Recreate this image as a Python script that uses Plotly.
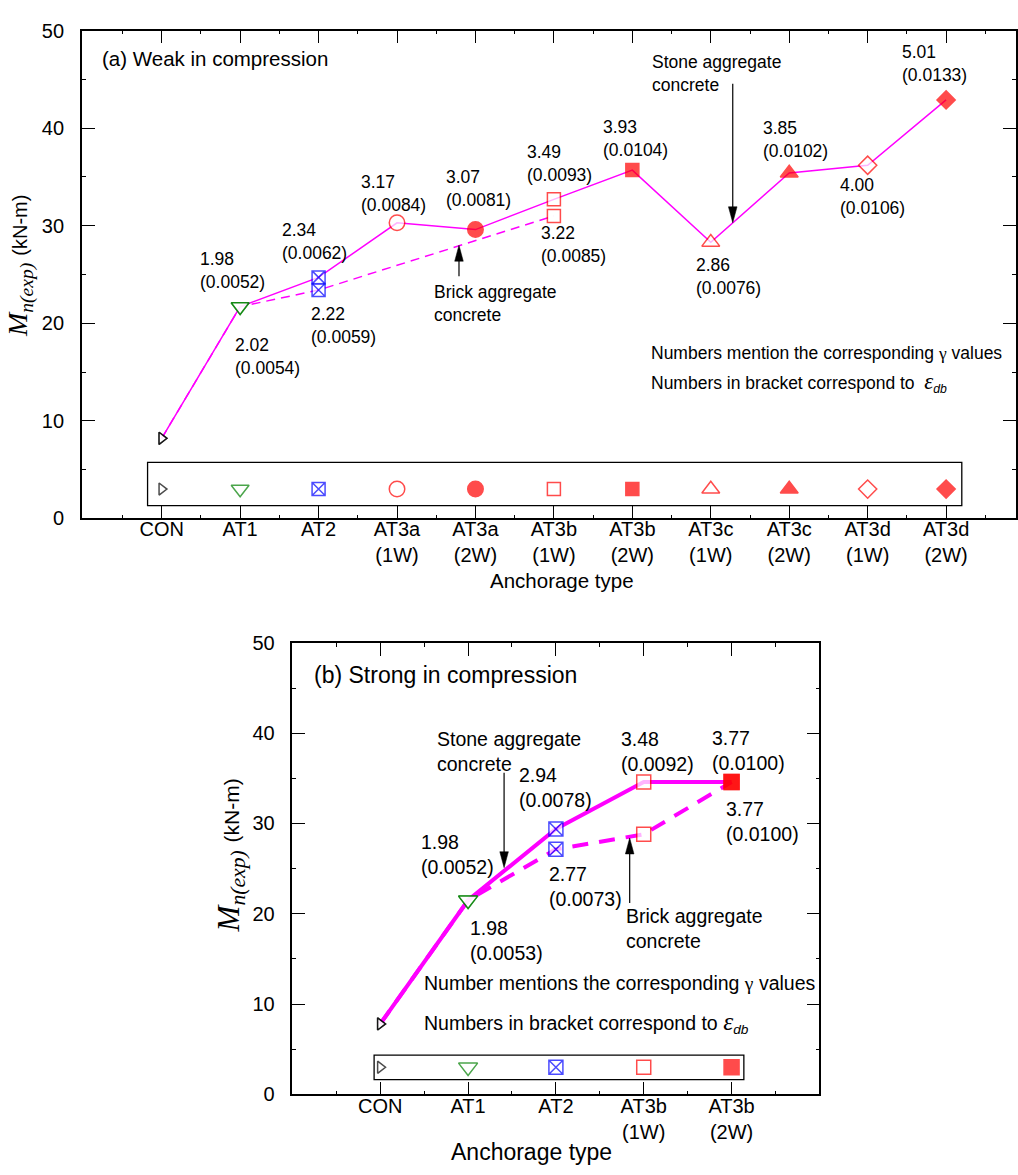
import plotly.graph_objects as go

# ---------------- (a) Weak in compression ----------------
types_a = ["CON", "AT1", "AT2", "AT3a<br>(1W)", "AT3a<br>(2W)", "AT3b<br>(1W)",
           "AT3b<br>(2W)", "AT3c<br>(1W)", "AT3c<br>(2W)", "AT3d<br>(1W)", "AT3d<br>(2W)"]
# stone aggregate concrete (solid line), every anchorage type
moment_a_stone = [8.2, 21.7, 24.7, 30.3, 29.6, 32.7, 35.7, 28.3, 35.4, 36.2, 42.9]
gamma_a_stone = [None, "1.98", "2.34", "3.17", "3.07", "3.49", "3.93", "2.86", "3.85", "4.00", "5.01"]
eps_a_stone = [None, "0.0052", "0.0062", "0.0084", "0.0081", "0.0093", "0.0104", "0.0076",
               "0.0102", "0.0106", "0.0133"]
# brick aggregate concrete (dashed line): CON, AT1, AT2, AT3b(1W)
pos_a_brick = [0, 1, 2, 5]
moment_a_brick = [8.2, 21.7, 23.4, 31.0]
gamma_a_brick = [None, "2.02", "2.22", "3.22"]
eps_a_brick = [None, "0.0054", "0.0059", "0.0085"]

# ---------------- (b) Strong in compression ----------------
types_b = ["CON", "AT1", "AT2", "AT3b<br>(1W)", "AT3b<br>(2W)"]
moment_b_stone = [7.8, 21.5, 29.4, 34.6, 34.6]
gamma_b_stone = [None, "1.98", "2.94", "3.48", "3.77"]
eps_b_stone = [None, "0.0052", "0.0078", "0.0092", "0.0100"]
moment_b_brick = [7.8, 21.5, 27.15, 28.8, 34.6]
gamma_b_brick = [None, "1.98", "2.77", None, "3.77"]
eps_b_brick = [None, "0.0053", "0.0073", None, "0.0100"]

# ---------------- styling ----------------
FONT = "Liberation Sans, Arial, sans-serif"
SERIF = "Liberation Serif, Times New Roman, serif"
MAGENTA = "#FF00FF"

sym_a = ["triangle-right", "triangle-down", "square-x", "circle", "circle", "square", "square",
         "triangle-up", "triangle-up", "diamond", "diamond"]
edge_a = ["black", "#008000", "#0000FF"] + ["#FF0000"] * 8
fill_a = ["white", "white", "white", "white", "#FF0000", "white", "#FF0000", "white", "#FF0000",
          "white", "#FF0000"]
size_a = [10.5, 15.5, 13, 15.5, 15.5, 13, 13, 15.5, 15.5, 14, 14]

sym_b = ["triangle-right", "triangle-down", "square-x", "square", "square"]
edge_b = ["black", "#008000", "#0000FF", "#FF0000", "#FF0000"]
fill_b = ["white", "white", "white", "white", "#FF0000"]
size_b = [10.5, 16.5, 14, 14, 15]

# pixel offsets (dx, dy) of each value label from its point
off_a_stone = [None, (-42, 36), (-39, 36), (-38, 29), (-31, 41), (-29, 36), (-31, 32),
               (-17, -34), (-28, 34), (-30, -31), (-46, 36)]
off_a_brick = [None, (-7, -50), (-10, -35), (-15, -29)]
off_b_stone = [None, (-49, 46), (-39, 41), (-25, 30), (-22, 31)]
off_b_brick = [None, (0, -40), (-9, -37), None, (-8, -40)]

key_level = 3  # height of the symbol key inside the framed box

fig = go.Figure()


def line_trace(xs, ys, dash, width, xa, ya):
    fig.add_trace(go.Scatter(x=xs, y=ys, mode="lines", xaxis=xa, yaxis=ya,
                             line=dict(color=MAGENTA, width=width, dash=dash),
                             hoverinfo="skip", showlegend=False))


def marker_trace(xs, ys, sym, edge, fill, size, xa, ya):
    fig.add_trace(go.Scatter(x=xs, y=ys, mode="markers", xaxis=xa, yaxis=ya,
                             marker=dict(symbol=sym, color=fill, size=size,
                                         line=dict(color=edge, width=1.5)),
                             hoverinfo="skip", showlegend=False))


idx_a = list(range(len(types_a)))
idx_b = list(range(len(types_b)))

# panel (a)
line_trace(idx_a, moment_a_stone, "solid", 1.5, "x", "y")
line_trace(pos_a_brick, moment_a_brick, "9px,6px", 1.5, "x", "y")
marker_trace(pos_a_brick, moment_a_brick, [sym_a[i] for i in pos_a_brick],
             [edge_a[i] for i in pos_a_brick], [fill_a[i] for i in pos_a_brick],
             [size_a[i] for i in pos_a_brick], "x", "y")
marker_trace(idx_a, moment_a_stone, sym_a, edge_a, fill_a, size_a, "x", "y")
marker_trace(idx_a, [key_level] * len(idx_a), sym_a, edge_a, fill_a, size_a, "x", "y")

# panel (b)
line_trace(idx_b, moment_b_brick, "16px,11px", 4, "x2", "y2")
line_trace(idx_b, moment_b_stone, "solid", 4, "x2", "y2")
marker_trace(idx_b, moment_b_brick, sym_b, edge_b, fill_b, size_b, "x2", "y2")
marker_trace(idx_b, moment_b_stone, sym_b, edge_b, fill_b, size_b, "x2", "y2")
marker_trace(idx_b, [key_level] * len(idx_b), sym_b, edge_b, fill_b, size_b, "x2", "y2")

annotations = []


def value_labels(xs, ys, gammas, epss, offsets, xref, yref, size):
    for x, y, g, e, off in zip(xs, ys, gammas, epss, offsets):
        if g is None:
            continue
        annotations.append(dict(x=x, y=y, xref=xref, yref=yref, text=f"{g}<br>({e})",
                                showarrow=False, xanchor="left", yanchor="middle", align="left",
                                xshift=off[0], yshift=off[1],
                                font=dict(family=FONT, size=size, color="black")))


value_labels(idx_a, moment_a_stone, gamma_a_stone, eps_a_stone, off_a_stone, "x", "y", 17.5)
value_labels(pos_a_brick, moment_a_brick, gamma_a_brick, eps_a_brick, off_a_brick, "x", "y", 17.5)
value_labels(idx_b, moment_b_stone, gamma_b_stone, eps_b_stone, off_b_stone, "x2", "y2", 19.5)
value_labels(idx_b, moment_b_brick, gamma_b_brick, eps_b_brick, off_b_brick, "x2", "y2", 19.5)


def text(x, y, xref, yref, s, size, xanchor="left", **kw):
    d = dict(x=x, y=y, xref=xref, yref=yref, text=s, showarrow=False, xanchor=xanchor,
             yanchor="middle", align="left", font=dict(family=FONT, size=size, color="black"))
    d.update(kw)
    annotations.append(d)


gamma_txt = f'<span style="font-family:{SERIF}">γ</span>'
eps_txt = (f'<span style="font-family:{SERIF};font-size:1.3em"><i>ε</i></span>'
           '<sub><i>db</i></sub>')

# panel (a) text
text(-0.79, 47.1, "x", "y", "(a) Weak in compression", 20.5)
text(6.23, 45.6, "x", "y", "Stone aggregate<br>concrete", 17.5)
text(3.45, 22.05, "x", "y", "Brick aggregate<br>concrete", 17.5)
text(6.21, 17.0, "x", "y", f"Numbers mention the corresponding {gamma_txt} values", 17.5)
text(6.21, 13.9, "x", "y", f"Numbers in bracket correspond to  {eps_txt}", 17.5)
text(563 / 1018, 1 - 580 / 1175, "paper", "paper", "Anchorage type", 20.5, xanchor="center")

# panel (b) text
text(-0.78, 46.5, "x2", "y2", "(b) Strong in compression", 23)
text(0.625, 38.0, "x2", "y2", "Stone aggregate<br>concrete", 19.5)
text(2.77, 18.4, "x2", "y2", "Brick aggregate<br>concrete", 19.5)
text(0.47, 12.3, "x2", "y2", f"Number mentions the corresponding {gamma_txt} values", 19.5)
text(0.47, 8.05, "x2", "y2", f"Numbers in bracket correspond to {eps_txt}", 19.5)
text(533 / 1018, 1 - 1163 / 1175, "paper", "paper", "Anchorage type", 23, xanchor="center")

# y-axis titles
ytitle_a = ('<i>M</i><sub><i>n(exp)</i></sub> '
            f'<span style="font-family:{FONT};font-size:20px">(kN-m)</span>')
ytitle_b = ('<i>M</i><sub><i>n(exp)</i></sub> '
            f'<span style="font-family:{FONT};font-size:21px">(kN-m)</span>')
annotations.append(dict(x=20 / 1018, y=1 - 260 / 1175, xref="paper", yref="paper", text=ytitle_a,
                        showarrow=False, textangle=-90, xanchor="center", yanchor="middle",
                        font=dict(family=SERIF, size=28, color="black")))
annotations.append(dict(x=231 / 1018, y=1 - 861 / 1175, xref="paper", yref="paper", text=ytitle_b,
                        showarrow=False, textangle=-90, xanchor="center", yanchor="middle",
                        font=dict(family=SERIF, size=31, color="black")))

shapes = []


def pointer(x, y, xref, yref, length):
    """Vertical arrow whose tip sits at (x, y); positive length puts the tail above."""
    s = 1 if length > 0 else -1
    common = dict(xref=xref, yref=yref, xsizemode="pixel", ysizemode="pixel",
                  xanchor=x, yanchor=y, layer="above")
    shapes.append(dict(type="line", x0=0, x1=0, y0=s * 10, y1=length,
                       line=dict(color="black", width=1.2), **common))
    shapes.append(dict(type="path", path=f"M0,0 L-4.3,{s * 16} L4.3,{s * 16} Z",
                       fillcolor="black", line=dict(color="black", width=0.5), **common))


pointer(7.28, 30.3, "x", "y", 139)
pointer(3.79, 28.0, "x", "y", -31)
pointer(1.41, 25.1, "x2", "y2", 95)
pointer(2.84, 28.4, "x2", "y2", -65)

# framed symbol keys
shapes.append(dict(type="rect", xref="x", yref="y", x0=-0.18, x1=10.2, y0=1.31, y1=5.74,
                   line=dict(color="black", width=1.3), layer="below"))
shapes.append(dict(type="rect", xref="x2", yref="y2", x0=-0.07, x1=4.14, y0=1.63, y1=4.35,
                   line=dict(color="black", width=1.3), layer="below"))

tickfont = dict(family=FONT, size=20, color="black")
axis_common = dict(showline=True, linecolor="black", linewidth=1.5, mirror="allticks",
                   ticks="inside", ticklen=13, tickwidth=1.2, tickcolor="black",
                   showgrid=False, zeroline=False, tickfont=tickfont)
yminor = dict(ticks="inside", ticklen=4, tickwidth=1, tickcolor="black", dtick=5, tick0=0,
              showgrid=False)
xminor = dict(ticks="inside", ticklen=4, tickwidth=1, tickcolor="black", dtick=1, tick0=0.5,
              showgrid=False)

fig.update_layout(
    width=1018, height=1175, margin=dict(l=0, r=0, t=0, b=0),
    paper_bgcolor="white", plot_bgcolor="white", showlegend=False,
    xaxis=dict(domain=[82 / 1018, 1.0], range=[-1.018, 10.891], anchor="y",
               tickmode="array", tickvals=idx_a, ticktext=types_a, minor=xminor,
               ticklabelstandoff=-8, **axis_common),
    yaxis=dict(domain=[1 - 517 / 1175, 1 - 20 / 1175], range=[0, 50], anchor="x",
               tickmode="array", tickvals=[0, 10, 20, 30, 40, 50], minor=yminor,
               ticklabelstandoff=12, **axis_common),
    xaxis2=dict(domain=[293 / 1018, 821 / 1018], range=[-1, 5], anchor="y2",
                tickmode="array", tickvals=idx_b, ticktext=types_b, minor=xminor,
                ticklabelstandoff=-7, **axis_common),
    yaxis2=dict(domain=[1 - 1104 / 1175, 1 - 644 / 1175], range=[0, 50], anchor="x2",
                tickmode="array", tickvals=[0, 10, 20, 30, 40, 50], minor=yminor,
                ticklabelstandoff=12, **axis_common),
    annotations=annotations,
    shapes=shapes,
)

fig.write_html("out.html")
